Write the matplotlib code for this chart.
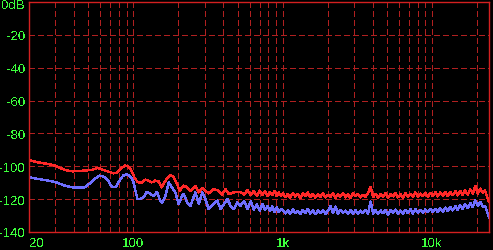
import matplotlib
matplotlib.use("Agg")
import matplotlib.pyplot as plt
from matplotlib.ticker import FixedLocator, LogLocator, NullFormatter
import matplotlib.transforms as mtransforms

plt.rcParams['font.family'] = ['Liberation Sans', 'DejaVu Sans']
plt.rcParams['text.antialiased'] = False

# ---- data ----
red_freq_lo = [20, 22.9, 26.8, 29.9, 34.8, 39.2, 52.3, 58, 67.9, 73.6, 77.4, 81.5, 87.9, 92.4, 97.2,
               102.5, 107.8, 114, 120, 126, 133, 140, 148, 155, 164, 177, 186, 196, 204, 217,
               229, 241, 260, 274, 289, 303, 319, 345, 373, 393, 413, 435, 470, 521]
red_db_lo = [-96.2, -97.6, -98.6, -99.6, -102.3, -103.1, -102.3, -101.0, -103.3, -104.3,
             -104.1, -101.6, -99.6, -100.0, -102.7, -107.7, -109.8, -109.8, -108.1, -108.7,
             -109.8, -108.7, -109.3, -112.8, -108.7, -105.3, -106.7, -110.8, -114.9, -111.8,
             -112.8, -114.9, -112.2, -115.9, -113.4, -114.9, -116.5, -113.8, -114.9, -117.3,
             -113.8, -116.9, -115.9, -115.5]

blue_freq_lo = [20, 22.9, 26.8, 30.5, 34.8, 39.2, 47.3, 51.1, 55.1, 59.2, 62.8, 67.9, 71.5, 76.3,
                79.3, 85.3, 89.8, 94.5, 99.6, 103.2, 106.5, 111, 117, 123, 130, 137, 144, 151,
                155, 164, 172, 181, 191, 201, 212, 217, 229, 241, 260, 274, 289, 303, 319, 345,
                364, 383, 403, 425, 447, 470, 495, 521]
blue_db_lo = [-106.7, -107.7, -108.7, -109.8, -111.8, -112.8, -112.8, -110.4, -107.7, -105.7,
              -106.1, -108.7, -112.4, -112.8, -109.8, -105.7, -104.9, -105.7, -108.7, -114.9,
              -119.9, -119.9, -118.9, -115.5, -116.9, -117.9, -115.5, -120.9, -122.3, -117.9,
              -109.8, -112.8, -115.9, -123.0, -117.9, -116.9, -121.9, -124.0, -115.9, -123.0,
              -115.9, -119.9, -126.0, -123.0, -120.9, -126.0, -123.0, -119.9, -124.0, -126.0,
              -121.9, -124.0]

freq_mid = [550, 580, 610, 640, 670, 700, 730, 760, 790, 820, 850, 880, 910, 940, 970]
red_db_mid = [-117.2, -114.6, -117.6, -115.0, -118.0, -114.8, -117.3, -115.4, -118.1, -115.9,
              -117.6, -115.1, -118.2, -116.0, -117.9]
blue_db_mid = [-121.2, -125.8, -121.5, -126.4, -123.0, -127.0, -122.8, -126.8, -124.0, -127.4,
               -124.5, -127.8, -125.0, -128.0, -126.2]

freq_hi = [1000, 1040, 1080, 1120, 1170, 1210, 1260, 1310, 1360, 1420, 1470, 1530, 1590, 1650,
           1720, 1790, 1860, 1930, 2000, 2080, 2170, 2250, 2340, 2430, 2530, 2630, 2730, 2840,
           2950, 3070, 3190, 3310, 3440, 3580, 3720, 3870, 4020, 4180, 4340, 4510, 4690, 4870,
           5060, 5260, 5470, 5680, 5900, 6130, 6370, 6620, 6880, 7150, 7430, 7720, 8020, 8340,
           8660, 9000, 9350, 9720, 10100, 10500, 10900, 11300, 11800, 12200, 12700, 13200,
           13700, 14300, 14800, 15400, 16000, 16600, 17300, 18000, 18700, 19400, 20200, 21000,
           21800, 22600, 23500, 24000]
red_db_hi = [-116.5, -118.6, -116.9, -119.0, -116.2, -118.4, -117.0, -119.2, -116.6, -118.1,
             -115.9, -118.8, -116.8, -119.1, -117.2, -118.5, -116.4, -119.0, -117.3,
             -118.7, -116.5, -119.2, -116.9, -118.4, -116.1, -118.9, -117.2, -119.3, -116.6,
             -118.2, -116.8, -119.0, -117.4, -118.6, -116.3,
             -112.4,
             -118.8, -116.7, -119.1, -117.0, -118.5, -116.4, -119.2, -116.9, -118.3, -116.2,
             -118.9, -117.1, -119.0, -116.5, -118.4, -116.8, -118.7, -115.9, -118.6, -116.6,
             -118.2, -116.3, -118.5, -116.1,
             -118.1, -115.8, -118.3, -116.0, -117.9, -115.5, -118.0, -115.7, -117.6, -115.2,
             -117.8, -114.9, -117.4, -114.6, -117.2, -114.0, -116.6,
             -111.8, -116.5, -113.6, -116.2, -114.8, -119.6, -121.5]
blue_db_hi = [-126.4, -128.7, -126.9, -128.9, -126.2, -128.4, -127.1, -129.0, -126.6, -128.2,
              -126.0, -128.8, -126.8, -129.1, -127.0, -128.5, -126.5, -129.0, -127.2,
              -124.2, -128.6, -124.5, -128.9, -126.6, -128.4, -126.9, -129.1, -126.5, -128.7,
              -126.8, -128.8, -127.0, -128.5, -126.6, -128.9,
              -121.5,
              -128.7, -126.7, -129.0, -126.9, -128.6, -126.5, -129.3, -126.8, -128.4, -126.4,
              -128.9, -127.0, -128.8, -126.6, -128.5, -126.2, -128.7, -126.1, -128.3, -126.5,
              -128.4, -126.2, -128.0, -126.0,
              -127.9, -125.9, -127.8, -125.6, -127.5, -125.2, -127.2, -124.8, -126.9, -124.3,
              -126.5, -123.6, -126.0, -123.0, -125.5, -122.3, -124.8,
              -120.6, -124.0, -121.8, -124.5, -124.0, -128.5, -131.0]

x_ticks = [20, 100, 1000, 10000]
x_labels = ['20', '100', '1k', '10k']
y_ticks = [0, -20, -40, -60, -80, -100, -120, -140]
y_labels = ['0dB', '-20', '-40', '-60', '-80', '-100', '-120', '-140']

red_freq = red_freq_lo + freq_mid + freq_hi
red_db = red_db_lo + red_db_mid + red_db_hi
blue_freq = blue_freq_lo + freq_mid + freq_hi
blue_db = blue_db_lo + blue_db_mid + blue_db_hi

# ---- figure ----
W, H = 493, 251
fig = plt.figure(figsize=(W / 100, H / 100), dpi=100, facecolor='black')
ax = fig.add_axes([29 / W, (H - 233) / H, 460 / W, 230 / H], facecolor='black')

grid_col = '#b02020'
ax.set_xscale('log')
ax.set_xlim(20, 24000)
ax.set_ylim(-140, 0)

ax.xaxis.set_major_locator(FixedLocator(x_ticks))
ax.set_xticklabels(x_labels)
ax.xaxis.set_minor_locator(LogLocator(base=10, subs=range(2, 10), numticks=20))
ax.xaxis.set_minor_formatter(NullFormatter())
ax.set_yticks(y_ticks)
ax.set_yticklabels(y_labels)

ax.grid(True, which='both', axis='x', color=grid_col, lw=0.75, dashes=(5, 3), antialiased=False)
ax.grid(True, which='major', axis='y', color=grid_col, lw=0.75, dashes=(5, 3), antialiased=False)
ax.set_axisbelow(True)

ax.plot(red_freq, red_db, color='#ff2828', lw=1.0, antialiased=False)
ax.plot(blue_freq, blue_db, color='#6e6eff', lw=1.0, antialiased=False)

for s in ax.spines.values():
    s.set_color('#d42020')
    s.set_linewidth(1.0)

ax.tick_params(which='both', length=0, labelcolor='#3cff3c', labelsize=9.5)
ax.tick_params(axis='y', pad=2.5)
ax.tick_params(axis='x', pad=3.5)

# first x label starts at the left edge, top y label hangs from the top edge
ax.get_xticklabels()[0].set_ha('left')
top = ax.get_yticklabels()[0]
top.set_va('top')
top.set_transform(top.get_transform() + mtransforms.ScaledTranslation(0, 3 / 100, fig.dpi_scale_trans))

fig.savefig('out.png', dpi=100, facecolor='black')
